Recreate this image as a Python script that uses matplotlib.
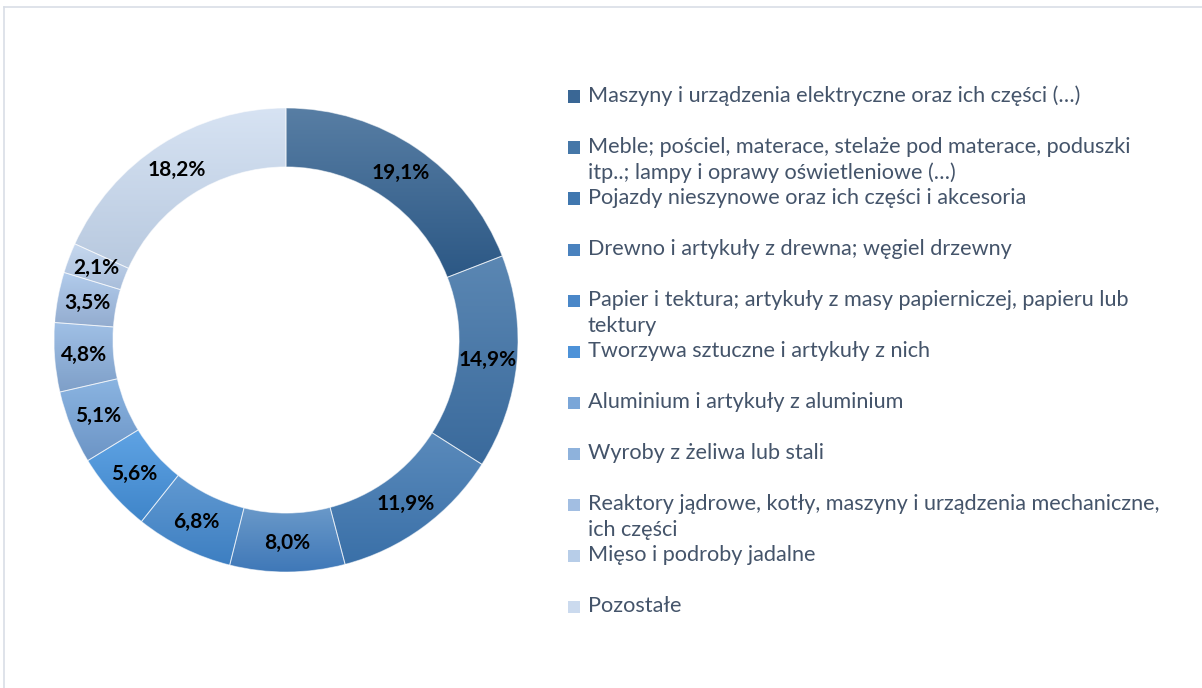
import matplotlib
matplotlib.use("Agg")
import matplotlib.pyplot as plt
from matplotlib.colors import LinearSegmentedColormap
from matplotlib.patches import Rectangle
from matplotlib.lines import Line2D
import numpy as np

# categories and shares (%)
categories = [
    "Maszyny i urządzenia elektryczne oraz ich części (…)",
    "Meble; pościel, materace, stelaże pod materace, poduszki\nitp..; lampy i oprawy oświetleniowe (…)",
    "Pojazdy nieszynowe oraz ich części i akcesoria",
    "Drewno i artykuły z drewna; węgiel drzewny",
    "Papier i tektura; artykuły z masy papierniczej, papieru lub\ntektury",
    "Tworzywa sztuczne i artykuły z nich",
    "Aluminium i artykuły z aluminium",
    "Wyroby z żeliwa lub stali",
    "Reaktory jądrowe, kotły, maszyny i urządzenia mechaniczne,\nich części",
    "Mięso i podroby jadalne",
    "Pozostałe",
]
shares = [19.1, 14.9, 11.9, 8.0, 6.8, 5.6, 5.1, 4.8, 3.5, 2.1, 18.2]

# colours: base (legend), gradient top / bottom (wedges)
base_colors = ["#3A6795", "#4577A8", "#4077AF", "#4A82BE", "#4A87C8", "#4D92D8",
               "#7AA6D8", "#8EB2DC", "#A2BEE2", "#B7CDE8", "#CBDAEE"]
top_colors = ["#587EA4", "#5B87B3", "#5A8ABB", "#6A99C9", "#6199D1", "#5FA3E4",
              "#8AB4E1", "#A0C0E6", "#B2CCEC", "#C6D8EF", "#D7E3F3"]
bottom_colors = ["#2C5885", "#3A6A9C", "#3A70A8", "#3F78B8", "#3D7FC2", "#3F85C9",
                 "#6C94C5", "#7E9FC8", "#93ACCF", "#A8BDDA", "#B8C9DF"]

W, H = 1202, 688
fig = plt.figure(figsize=(W / 100, H / 100), dpi=100)
fig.patch.set_facecolor("white")

# donut axes: centre (286, 340) px, outer radius 232 px
cx, cy, R = 286, 340, 232
ax = fig.add_axes([(cx - R) / W, (H - cy - R) / H, 2 * R / W, 2 * R / H])

wedges, _ = ax.pie(shares, radius=1, startangle=90, counterclock=False,
                   colors=base_colors, wedgeprops=dict(width=0.254, edgecolor="none"))

grad = np.linspace(0, 1, 256).reshape(-1, 1)
for w, c_top, c_bot in zip(wedges, top_colors, bottom_colors):
    ext = w.get_path().get_extents()
    cmap = LinearSegmentedColormap.from_list("g", [c_bot, c_top])
    im = ax.imshow(grad, extent=[ext.x0, ext.x1, ext.y0, ext.y1], origin="lower",
                   cmap=cmap, aspect="auto", interpolation="bilinear", zorder=1)
    im.set_clip_path(w)
    w.set_facecolor("none")
    w.set_edgecolor((1, 1, 1, 0.55))
    w.set_linewidth(0.7)
    w.set_zorder(3)

# percentage labels at the middle of the ring
r_mid = 1 - 0.254 / 2
start = 90.0
for v in shares:
    ang = np.deg2rad(start - v * 360 / 100 / 2)
    ax.text(r_mid * np.cos(ang), r_mid * np.sin(ang), f"{v:.1f}".replace(".", ",") + "%",
            ha="center", va="center", fontsize=15, fontweight="bold",
            family="Lato", color="black", zorder=4)
    start -= v * 360 / 100

ax.set_xlim(-1, 1)
ax.set_ylim(-1, 1)
ax.set_aspect("auto")
ax.axis("off")

# legend drawn by hand
y0, step = 96, 51.0
for i, (lab, col) in enumerate(zip(categories, base_colors)):
    yc = y0 + i * step
    fig.patches.append(Rectangle((568 / W, (H - yc - 6.5) / H), 12 / W, 12 / H,
                                 transform=fig.transFigure, facecolor=col,
                                 edgecolor="none"))
    for j, line in enumerate(lab.split("\n")):
        fig.text(588 / W, (H - yc - j * 26) / H, line, ha="left", va="center",
                 fontsize=15.6, family="Lato", color="#44546A")

# chart frame
fig.add_artist(Line2D([4 / W, 1], [(H - 7) / H, (H - 7) / H], color="#D9DEE6",
                      lw=1.2, transform=fig.transFigure))
fig.add_artist(Line2D([4 / W, 4 / W], [0, (H - 7) / H], color="#D9DEE6",
                      lw=1.2, transform=fig.transFigure))

fig.savefig("out.png", dpi=100)
